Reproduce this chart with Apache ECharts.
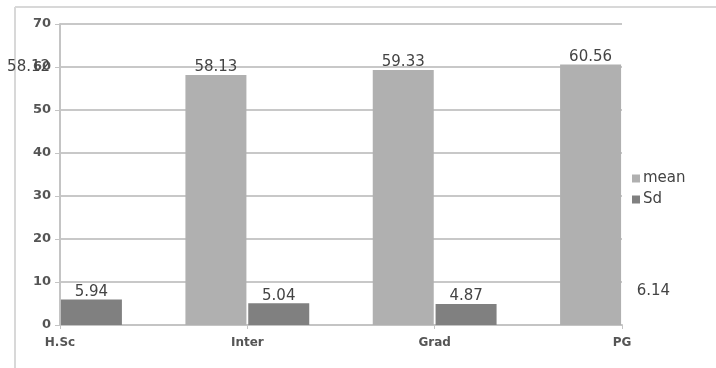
<!DOCTYPE html>
<html>
<head>
    <meta charset="utf-8">
    <title>ECharts</title>
    <script src="https://cdn.jsdelivr.net/npm/echarts@6/dist/echarts.min.js"></script>
</head>
<body style="margin:0;background:#fff;">
    <div id="main" style="width: 716px;height: 368px;"></div>
    <script type="text/javascript">
        // data
        var categories = ['H.Sc', 'Inter', 'Grad', 'PG'];
        var meanValues = [58.12, 58.13, 59.33, 60.56];
        var sdValues = [5.94, 5.04, 4.87, 6.14];
        var yTicks = [0, 10, 20, 30, 40, 50, 60, 70];

        var meanColor = '#b0b0b0';
        var sdColor = '#808080';
        var labelFont = { color: '#444', fontSize: 15, fontFamily: 'DejaVu Sans' };

        // bars that fall outside the plot area keep only their label
        function withHidden(values, hiddenIndex) {
            return values.map(function (v, i) {
                if (i !== hiddenIndex) return v;
                return { value: v, itemStyle: { color: 'rgba(0,0,0,0)' } };
            });
        }

        var myChart = echarts.init(document.getElementById('main'));

        var option = {
            backgroundColor: '#fff',
            animation: false,
            graphic: [
                { type: 'line', shape: { x1: 15, y1: 7, x2: 716, y2: 7 }, style: { stroke: '#d8d8d8', lineWidth: 2 } },
                { type: 'line', shape: { x1: 15, y1: 7, x2: 15, y2: 368 }, style: { stroke: '#d8d8d8', lineWidth: 2 } }
            ],
            grid: { left: 60, right: 94, top: 24, bottom: 43 },
            legend: {
                data: ['mean', 'Sd'],
                orient: 'vertical',
                left: 627,
                top: 166,
                itemWidth: 8,
                itemHeight: 8,
                itemGap: 6,
                icon: 'rect',
                textStyle: { color: '#444', fontSize: 15, fontFamily: 'DejaVu Sans', padding: [0, 0, 0, -2] }
            },
            xAxis: {
                type: 'category',
                data: categories,
                boundaryGap: false,
                axisLine: { lineStyle: { color: '#c4c4c4', width: 2 } },
                axisTick: { show: true, length: 4, lineStyle: { color: '#c4c4c4' } },
                axisLabel: { color: '#555', fontSize: 12, fontWeight: 'bold', fontFamily: 'DejaVu Sans', margin: 12 },
                splitLine: { show: false }
            },
            yAxis: {
                type: 'value',
                min: 0,
                max: 70,
                interval: 10,
                axisLine: { show: true, lineStyle: { color: '#c4c4c4', width: 2 } },
                axisTick: { show: true, length: 5, lineStyle: { color: '#c4c4c4' } },
                axisLabel: {
                    color: '#555', fontSize: 13, fontWeight: 'bold', fontFamily: 'DejaVu Sans', margin: 9,
                    formatter: function (v) { return yTicks.indexOf(v) >= 0 ? String(v) : ''; }
                },
                splitLine: { lineStyle: { color: '#c8c8c8', width: 2 } }
            },
            series: [
                {
                    name: 'mean', type: 'bar', data: withHidden(meanValues, 0),
                    barWidth: 61, barGap: '3%', z: 1,
                    itemStyle: { color: meanColor },
                    label: Object.assign({ show: true, position: 'top', distance: 0 }, labelFont)
                },
                {
                    name: 'Sd', type: 'bar', data: withHidden(sdValues, 3),
                    barWidth: 61, barGap: '3%', z: 1,
                    itemStyle: { color: sdColor },
                    label: Object.assign({ show: true, position: 'top', distance: 0 }, labelFont)
                }
            ]
        };

        myChart.setOption(option);
    </script>
</body>
</html>
